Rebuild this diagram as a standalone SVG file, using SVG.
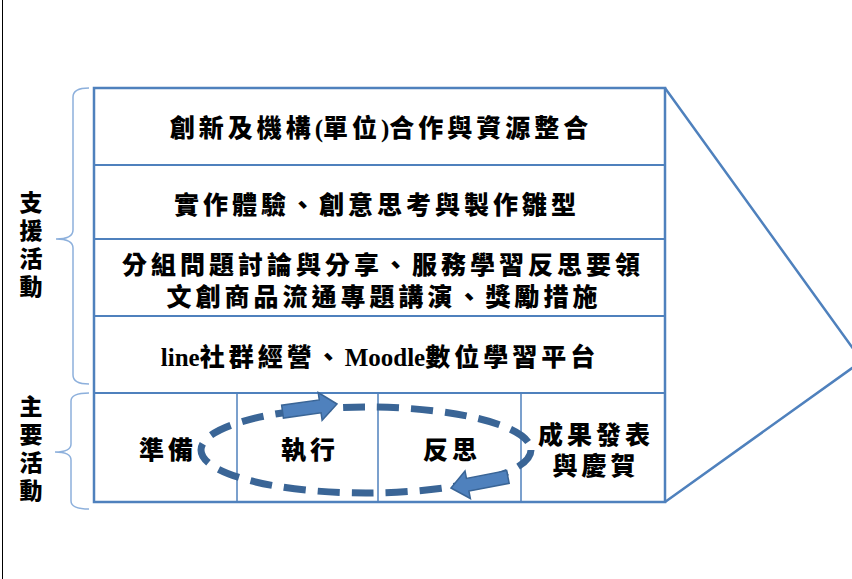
<svg xmlns="http://www.w3.org/2000/svg" width="852" height="579" viewBox="0 0 852 579">
<style>
.frame{fill:none;stroke:#4F81BD;stroke-width:2.5}
.div{stroke:#4F81BD;stroke-width:2}
.col{stroke:#4F81BD;stroke-width:1.5}
.brace{fill:none;stroke:#8DB0DC;stroke-width:1.5}
.t{font-family:"Noto Sans CJK TC","Liberation Serif",sans-serif;font-weight:900;font-size:25px;fill:#000;text-anchor:middle;letter-spacing:4px}
.lat{font-family:"Liberation Serif",serif;font-weight:bold;letter-spacing:0}
.side{font-family:"Noto Sans CJK TC",sans-serif;font-weight:900;font-size:23px;fill:#000;writing-mode:vertical-rl;letter-spacing:5px}
.arr{fill:#4F81BD;stroke:#3A6596;stroke-width:1.5;stroke-linejoin:miter}
</style>
<rect width="852" height="579" fill="#fff"/>
<line x1="2.5" y1="0" x2="2.5" y2="579" stroke="#000" stroke-width="1"/>

<g id="labels">
<g id="support-label">
<path class="brace" d="M89,88 Q73,88 73,97 L73,230 Q73,239 56,239 Q73,239 73,248 L73,375 Q73,384 89,384"/>
<text class="side" x="31" y="191">支援活動</text>
</g>
<g id="main-label">
<path class="brace" d="M89,393 Q71,393 71,401 L71,444 Q71,452 55,452 Q71,452 71,460 L71,501 Q71,509 89,509"/>
<text class="side" x="31" y="395">主要活動</text>
</g>
</g>

<g id="funnel">
<polyline points="665,88 862,361 665,502" fill="none" stroke="#4F81BD" stroke-width="2.5"/>
</g>

<g id="table">
<rect class="frame" x="94" y="88" width="571" height="414"/>
<line class="div" x1="94" y1="165" x2="665" y2="165"/>
<line class="div" x1="94" y1="239" x2="665" y2="239"/>
<line class="div" x1="94" y1="316" x2="665" y2="316"/>
<line class="div" x1="94" y1="393" x2="665" y2="393"/>
<line class="col" x1="237" y1="393" x2="237" y2="502"/>
<line class="col" x1="378" y1="393" x2="378" y2="502"/>
<line class="col" x1="521" y1="393" x2="521" y2="502"/>
</g>

<g id="row1"><text class="t" x="381" y="137">創新及機構<tspan class="lat">(</tspan>單位<tspan class="lat">)</tspan>合作與資源整合</text></g>
<g id="row2"><text class="t" x="377" y="214">實作體驗、創意思考與製作雛型</text></g>
<g id="row3"><text class="t"><tspan x="383" y="274">分組問題討論與分享、服務學習反思要領</tspan><tspan x="384" y="306">文創商品流通專題講演、獎勵措施</tspan></text></g>
<g id="row4"><text class="t" x="380" y="366"><tspan class="lat">line</tspan>社群經營、<tspan class="lat">Moodle</tspan>數位學習平台</text></g>

<g id="prep"><text class="t" x="168" y="459">準備</text></g>
<g id="exec"><text class="t" x="310" y="459">執行</text></g>
<g id="reflect"><text class="t" x="452" y="459">反思</text></g>
<g id="present"><text class="t"><tspan x="596" y="444">成果發表</tspan><tspan x="596" y="475">與慶賀</tspan></text></g>

<g id="connectors">
<ellipse cx="366" cy="450" rx="165" ry="43" fill="none" stroke="#3A6596" stroke-width="7" stroke-dasharray="22,12"/>
<path class="arr" transform="translate(337,404) rotate(-8)" d="M0,0 L-17,-14 L-17,-6.5 L-55,-6.5 L-55,6.5 L-17,6.5 L-17,14 Z"/>
<path class="arr" transform="translate(451,488) rotate(169)" d="M0,0 L-17,-14 L-17,-6.5 L-58,-6.5 L-58,6.5 L-17,6.5 L-17,14 Z"/>
</g>
</svg>
